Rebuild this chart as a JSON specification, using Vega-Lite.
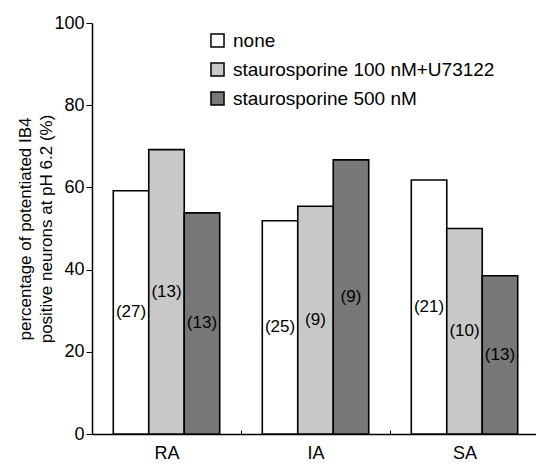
{
  "$schema": "https://vega.github.io/schema/vega-lite/v6.json",
  "width": 444,
  "height": 411,
  "autosize": "none",
  "padding": {"left": 92, "top": 23, "right": 0, "bottom": 30},
  "config": {
    "font": "Liberation Sans",
    "view": {"stroke": null},
    "axis": {"labelFont": "Liberation Sans", "titleFont": "Liberation Sans", "domainColor": "#000", "tickColor": "#000", "labelColor": "#000", "titleColor": "#000"}
  },
  "data": {
    "values": [
      {"group": "RA", "treatment": "none", "value": 59.2, "n": "(27)"},
      {"group": "RA", "treatment": "staurosporine 100 nM+U73122", "value": 69.2, "n": "(13)"},
      {"group": "RA", "treatment": "staurosporine 500 nM", "value": 53.8, "n": "(13)"},
      {"group": "IA", "treatment": "none", "value": 51.9, "n": "(25)"},
      {"group": "IA", "treatment": "staurosporine 100 nM+U73122", "value": 55.4, "n": "(9)"},
      {"group": "IA", "treatment": "staurosporine 500 nM", "value": 66.7, "n": "(9)"},
      {"group": "SA", "treatment": "none", "value": 61.8, "n": "(21)"},
      {"group": "SA", "treatment": "staurosporine 100 nM+U73122", "value": 50.0, "n": "(10)"},
      {"group": "SA", "treatment": "staurosporine 500 nM", "value": 38.5, "n": "(13)"}
    ]
  },
  "encoding": {
    "x": {
      "field": "group", "type": "nominal", "sort": ["RA", "IA", "SA"],
      "scale": {"paddingInner": 0, "paddingOuter": 0, "range": [0, 447]},
      "axis": {"title": null, "labelAngle": 0, "labelFontSize": 18, "labelPadding": 14, "tickBand": "extent", "ticks": true, "tickSize": -4, "domainWidth": 1.5, "tickWidth": 1}
    },
    "xOffset": {
      "field": "treatment", "type": "nominal",
      "sort": ["none", "staurosporine 100 nM+U73122", "staurosporine 500 nM"],
      "scale": {"paddingInner": 0, "paddingOuter": 0.6}
    }
  },
  "layer": [
    {
      "mark": {"type": "bar", "stroke": "#000", "strokeWidth": 1.6},
      "encoding": {
        "y": {
          "field": "value", "type": "quantitative",
          "scale": {"domain": [0, 100]},
          "axis": {
            "title": ["percentage of potentiated IB4", "positive neurons at pH 6.2 (%)"],
            "titleFontSize": 17, "titleFontWeight": "normal", "titleLineHeight": 21, "titlePadding": -2,
            "values": [0, 20, 40, 60, 80, 100], "grid": false,
            "labelFontSize": 18, "labelPadding": 2, "tickSize": 6, "domainWidth": 1.5
          }
        },
        "fill": {
          "field": "treatment", "type": "nominal",
          "sort": ["none", "staurosporine 100 nM+U73122", "staurosporine 500 nM"],
          "scale": {"range": ["#ffffff", "#c8c8c8", "#787878"]},
          "legend": {
            "title": null, "orient": "none", "legendX": 116, "legendY": 8,
            "symbolType": "square", "symbolSize": 170, "symbolStrokeColor": "#000", "symbolStrokeWidth": 1.5,
            "labelFontSize": 19, "labelColor": "#000", "labelLimit": 400, "rowPadding": 8, "labelOffset": 6
          }
        }
      }
    },
    {
      "transform": [{"calculate": "datum.value / 2", "as": "mid"}],
      "mark": {"type": "text", "fontSize": 17, "color": "#000", "baseline": "middle"},
      "encoding": {
        "y": {"field": "mid", "type": "quantitative"},
        "text": {"field": "n"}
      }
    }
  ]
}
